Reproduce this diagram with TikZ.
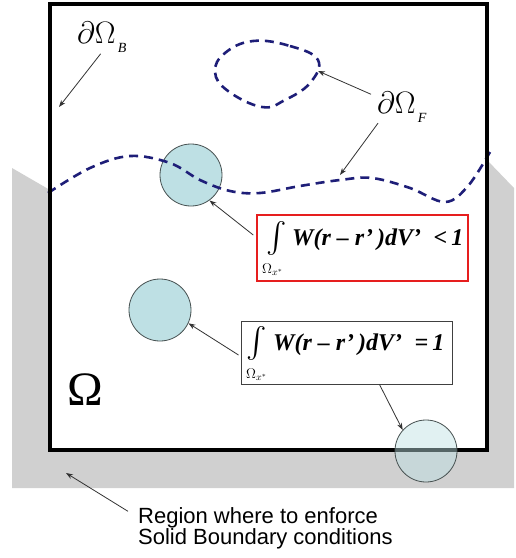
\RequirePackage{fix-cm}
\documentclass[tikz,border=0pt]{standalone}
\usepackage{amsmath}
\usepackage{graphicx}
\usepackage{fontspec}
\setmainfont{Liberation Serif}
\setsansfont{Liberation Sans}
\usetikzlibrary{arrows.meta,calc}
\definecolor{cfill}{RGB}{190,224,228}
\definecolor{cline}{RGB}{70,80,80}
\definecolor{navy}{RGB}{30,30,120}
\definecolor{grayreg}{RGB}{208,208,208}
\definecolor{arrc}{RGB}{50,50,50}
\definecolor{boxred}{RGB}{230,30,30}
\begin{document}
\begin{tikzpicture}[x=1pt,y=-1pt,
  circ/.style={circle, draw=cline, line width=0.8pt, fill=cfill, minimum size=62pt, inner sep=0pt},
  fdash/.style={draw=navy, line width=2.6pt, dash pattern=on 9pt off 6pt},
  arr/.style={draw=arrc, line width=0.8pt, -{Stealth[length=7pt,width=5pt]}},
  lbl/.style={inner sep=0pt, anchor=base west},
  intsign/.style={inner sep=0pt, anchor=center},
  eqbox/.style={minimum width=211pt, inner sep=0pt},
  exprfont/.style={font=\fontsize{24}{24}\selectfont\bfseries\itshape},
  subfont/.style={font=\fontsize{14}{14}\selectfont},
]
\useasboundingbox (0,0) rectangle (516,558);
% solid region
\fill[grayreg] (12,168) -- (50,190) -- (487,160) -- (514,188) -- (514,488) -- (12,488) -- cycle;
% domain
\fill[white] (50,4) rectangle (487,450);
% particles
\node[circ] (c1) at (191,175) {};
\node[circ] (c2) at (160,310) {};
% free surfaces
\draw[fdash] plot[smooth, tension=0.6] coordinates {(48,193) (90,168) (130,156) (170,163) (200,180) (230,191) (260,193) (300,186) (340,180) (372,178) (410,188) (445,202) (468,186) (490,152)};
\draw[fdash] plot[smooth cycle, tension=0.7] coordinates {(253,41) (290,46) (318,60) (310,83) (285,100) (262,107) (228,91) (215,72) (225,53)};
% domain border
\draw[line width=4pt] (50,4) rectangle (487,450);
\node[circ, fill opacity=0.45] (c3) at (426,451) {};
% boxes
\node[eqbox, draw=boxred, line width=1.5pt, minimum height=66pt] (rb) at (362.5,248) {};
\node[eqbox, draw=black!75, line width=1pt, minimum height=63pt] (bb) at (346.5,352.5) {};
% formulas
\node[intsign] (int1) at (277,238) {\resizebox*{!}{34pt}{$\int$}};
\node[lbl, exprfont] (ex1) at (292,245) {W(r – r’\,)dV’ \;<\,1};
\node[lbl, subfont] (om1) at (262,273) {$\Omega_{x^*}$};
\node[intsign] (int2) at (257,343) {\resizebox*{!}{34pt}{$\int$}};
\node[lbl, exprfont] (ex2) at (273,350) {W(r – r’\,)dV’ \;=\,1};
\node[lbl, subfont] (om2) at (246,378) {$\Omega_{x^*}$};
% labels
\node[lbl] (lB) at (77,43) {\fontsize{31}{31}\selectfont$\partial\Omega$\raisebox{-9pt}{\fontsize{14}{14}\selectfont\itshape\,B}};
\node[lbl] (lF) at (377,113) {\fontsize{31}{31}\selectfont$\partial\Omega$\raisebox{-9pt}{\fontsize{14}{14}\selectfont\itshape\,F}};
\node[lbl] (om) at (67,405) {\fontsize{48}{48}\selectfont Ω};
\node[lbl, font=\sffamily\fontsize{22}{22}\selectfont] (t1) at (138,523) {Region where to enforce};
\node[lbl, font=\sffamily\fontsize{22}{22}\selectfont] (t2) at (138,544) {Solid Boundary conditions};
% arrow targets
\coordinate (loopTip) at (318,71);
\coordinate (waveP) at (340,175);
\coordinate (bdryP) at (59,107);
\coordinate (solidP) at (66,473);
% arrows
\draw[arr, shorten <=2pt] (lB.south) -- (bdryP);
\draw[arr] ($(lF.north west)+(-6,3)$) -- (loopTip);
\draw[arr] ($(lF.south west)+(1,1)$) -- (waveP);
\draw[arr] ($(rb.west)+(-3,-13)$) -- (c1.-54);
\draw[arr] ($(bb.west)+(-2,2.5)$) -- (c2.-25);
\draw[arr] ($(bb.south west)+(139,0)$) -- (c3.138);
\draw[arr] ($(t1.west)+(-10,-6)$) -- (solidP);
\end{tikzpicture}
\end{document}
